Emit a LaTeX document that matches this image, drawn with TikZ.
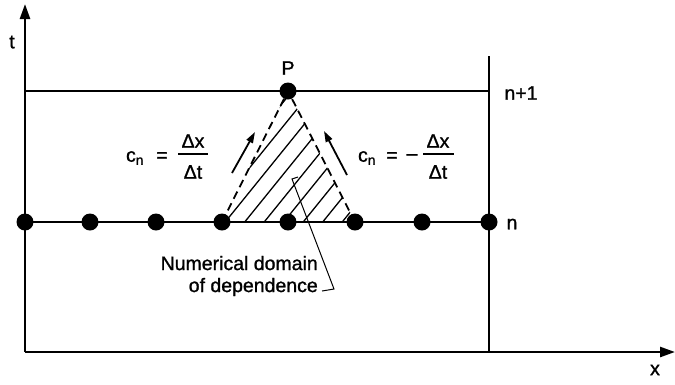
\documentclass[tikz,border=0pt]{standalone}
\usepackage{fontspec}
\setmainfont{Liberation Sans}[FakeBold=1.2]
\usetikzlibrary{arrows.meta}
\begin{document}
\begin{tikzpicture}[x=1pt,y=-1pt,
  main/.style={line width=2.5pt},
  axis/.style={line width=2.5pt,-{Triangle[length=15pt,width=10pt]}},
  dot/.style={circle,fill=black,inner sep=0pt,minimum size=17pt},
  lbl/.style={font=\fontsize{19.5}{22}\selectfont,inner sep=0pt},
  vel/.style={line width=1.8pt,-{Triangle[length=11pt,width=7pt]}},
  hatch/.style={line width=1.3pt},
  lead/.style={line width=1pt}]
\useasboundingbox (0,0) rectangle (675,384);
% axes
\coordinate (O) at (25,352);
\coordinate (tend) at (25,4);
\coordinate (xend) at (675,352);
\draw[axis] (O) -- (tend);
\draw[axis] (O) -- (xend);
\node[lbl] (tl) at (12,42) {t};
\node[lbl] (xl) at (655,370) {x};
% right boundary
\coordinate (rb) at (489,352);
\coordinate (rt) at (489,56);
\draw[main] (rb) -- (rt);
% time levels
\coordinate (L1) at (25,91);
\coordinate (R1) at (489,91);
\draw[main] (L1) -- (R1);
\coordinate (L0) at (25,222);
\coordinate (R0) at (489,222);
\draw[main] (L0) -- (R0);
% hatched triangle
\coordinate (A) at (222,222);
\coordinate (B) at (355,222);
\coordinate (Pc) at (288,91);
\begin{scope}
  \clip (A) -- (Pc) -- (B) -- cycle;
  \foreach \i in {0,...,14} {
    \draw[hatch] (222+19.5*\i-130,222+20) -- ++(170,-210);
  }
\end{scope}
\draw[line width=1.8pt,dash pattern=on 8pt off 5pt] (A) -- (Pc);
\draw[line width=1.8pt,dash pattern=on 8pt off 5pt] (B) -- (Pc);
% dots
\foreach \n/\x in {d0/25,d1/90,d2/156,d3/222,d4/288,d5/355,d6/422,d7/489} {
  \node[dot] (\n) at (\x,222) {};
}
\node[dot] (P) at (288,91) {};
\node[lbl] (Pl) at (288,68) {P};
\node[lbl] (n1) at (521,93) {n+1};
\node[lbl] (n0) at (512,224) {n};
% velocity arrows
\coordinate (a1s) at (232,173);
\coordinate (a1e) at (255,132);
\draw[vel] (a1s) -- (a1e);
\coordinate (a2s) at (347,175);
\coordinate (a2e) at (324,131);
\draw[vel] (a2s) -- (a2e);
% left formula
\node[lbl] (cl) at (135,158) {c\textsubscript{n}};
\node[lbl] (eql) at (162,157) {=};
\node[lbl] (numl) at (193,141) {Δx};
\node[lbl] (denl) at (193,172) {Δt};
\draw[line width=1.2pt] (178,154) -- (208,154);
% right formula
\node[lbl] (cr) at (367,158) {c\textsubscript{n}};
\node[lbl] (eqr) at (392,157) {=};
\node[lbl] (minr) at (412,157) {–};
\node[lbl] (numr) at (438,141) {Δx};
\node[lbl] (denr) at (438,172) {Δt};
\draw[line width=1.2pt] (423,154) -- (454,154);
% domain label
\node[lbl,align=right,anchor=east] (dom) at (318,276) {Numerical domain\\of dependence};
\coordinate (h1) at (322,291);
\coordinate (h2) at (334,289);
\coordinate (h3) at (292,179);
\coordinate (h4) at (298,177);
\draw[lead] (h1) -- (h2) -- (h3) -- (h4);
\end{tikzpicture}
\end{document}
